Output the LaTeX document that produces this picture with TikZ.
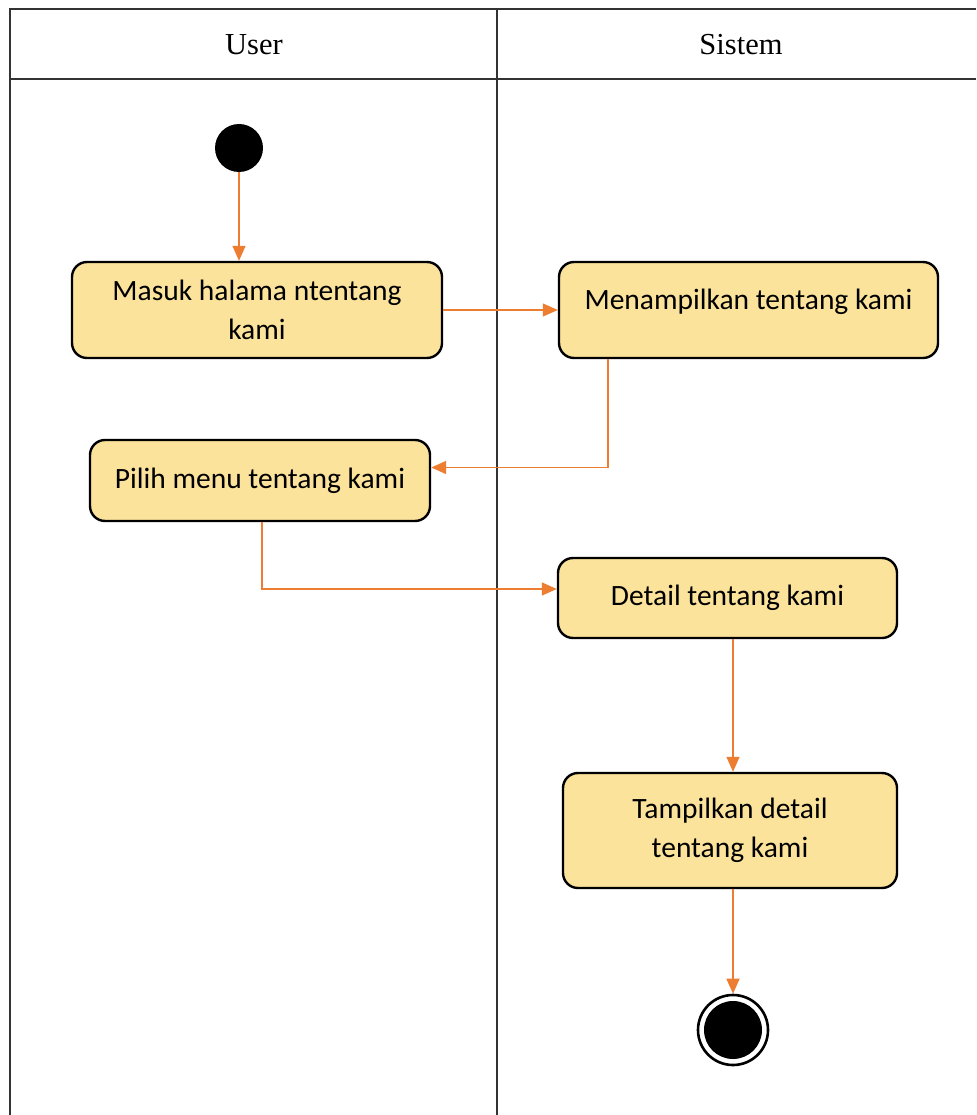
\documentclass[tikz,border=0pt]{standalone}
\usepackage{fontspec}
\setmainfont{Liberation Serif}
\newfontfamily\boxfont{Carlito}
\usetikzlibrary{arrows.meta,calc}
\definecolor{actfill}{HTML}{FCE39B}
\definecolor{flow}{HTML}{ED7D31}
\definecolor{lane}{HTML}{333333}
\tikzset{
  lanehead/.style={font=\fontsize{30.5}{34}\selectfont, text=black},
  activity/.style={draw=black, line width=2.4pt, rounded corners=15pt, fill=actfill,
    font=\boxfont\fontsize{29.5}{39}\selectfont, align=center, inner sep=0pt},
  flowline/.style={draw=flow, line width=1.4pt, -{Triangle[length=15pt,width=13pt]}},
  startstate/.style={circle, fill=black, minimum size=48pt, inner sep=0pt},
  endstate/.style={circle, draw=black, line width=2.6pt, minimum size=70pt, inner sep=0pt,
    path picture={\fill[black] (path picture bounding box.center) circle (29pt);}},
}
\begin{document}
\begin{tikzpicture}[x=1pt,y=-1pt]
\useasboundingbox (0,0) rectangle (976,1115);
\fill[white] (0,0) rectangle (976,1115);

% swimlane frame
\draw[lane, line width=1.3pt] (10,1115) -- (10,9) -- (976,9);
\draw[lane, line width=1.3pt] (10,79) -- (976,79);
\draw[lane, line width=1.3pt] (497,9) -- (497,1115);
\node[lanehead] (hUser) at (254,45) {User};
\node[lanehead] (hSistem) at (741,45) {Sistem};

% states and activities
\node[startstate] (start) at (239,148) {};
\node[activity, minimum width=370pt, minimum height=96pt] (masuk) at (257,310) {Masuk halama ntentang\\kami};
\node[activity, minimum width=379pt, minimum height=96pt, text depth=22pt] (menampilkan) at (748.5,310) {Menampilkan tentang kami};
\node[activity, minimum width=340pt, minimum height=81pt] (pilih) at (260,480.5) {Pilih menu tentang kami};
\node[activity, minimum width=339pt, minimum height=80pt] (detail) at (727.5,598) {Detail tentang kami};
\node[activity, minimum width=334pt, minimum height=115pt] (tampil) at (730,830.5) {Tampilkan detail\\tentang kami};
\node[endstate] (end) at (733,1030) {};

% control flow
\draw[flowline] (start.south) -- (start.south |- masuk.north);
\draw[flowline] (masuk.east) -- (menampilkan.west);
\draw[flowline] ([xshift=50pt]menampilkan.south west) |- ([yshift=13pt]pilih.east);
\draw[flowline] ([xshift=2pt]pilih.south) |- ([yshift=9pt]detail.west);
\draw[flowline] ([xshift=5.5pt]detail.south) -- ([xshift=5.5pt]detail.south |- tampil.north);
\draw[flowline] ([xshift=3pt]tampil.south) -- ([xshift=3pt]tampil.south |- end.north);
\end{tikzpicture}
\end{document}
